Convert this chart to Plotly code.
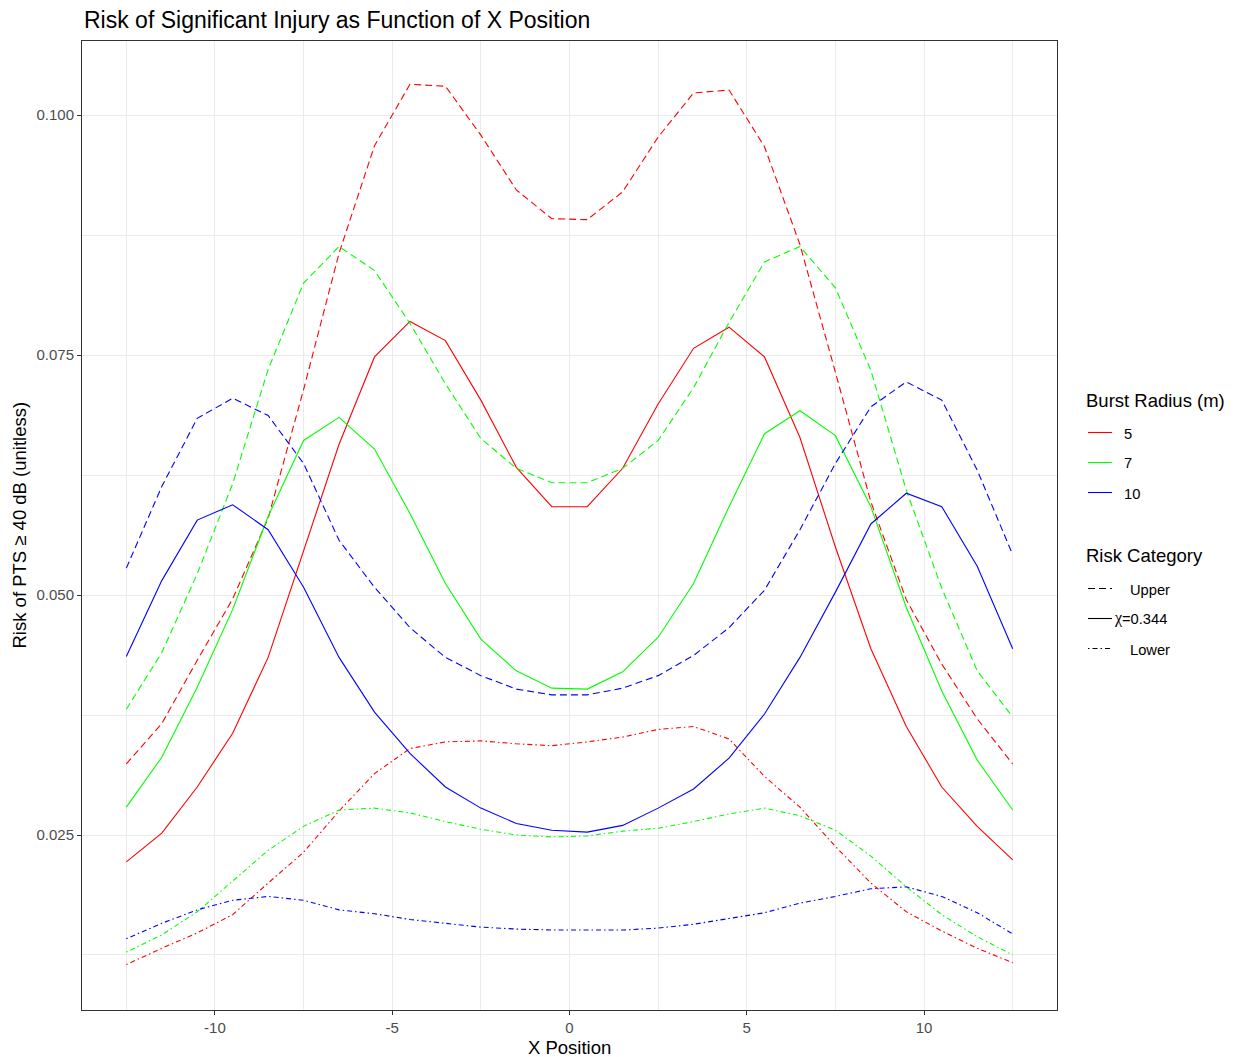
import plotly.graph_objects as go

x_pos = [-12.5, -11.5, -10.5, -9.5, -8.5, -7.5, -6.5, -5.5, -4.5, -3.5, -2.5, -1.5, -0.5,
         0.5, 1.5, 2.5, 3.5, 4.5, 5.5, 6.5, 7.5, 8.5, 9.5, 10.5, 11.5, 12.5]

r5_upper = [0.0324, 0.0366, 0.0432, 0.0496, 0.0580, 0.0714, 0.0856, 0.0968, 0.1032, 0.1030, 0.0979, 0.0922, 0.0892,
            0.0891, 0.0920, 0.0977, 0.1023, 0.1026, 0.0967, 0.0865, 0.0732, 0.0597, 0.0495, 0.0428, 0.0371, 0.0324]
r5_mid = [0.0222, 0.0252, 0.0300, 0.0356, 0.0435, 0.0546, 0.0657, 0.0748, 0.0785, 0.0765, 0.0703, 0.0633, 0.0592,
          0.0592, 0.0632, 0.0699, 0.0757, 0.0779, 0.0748, 0.0664, 0.0550, 0.0444, 0.0363, 0.0300, 0.0259, 0.0224]
r5_lower = [0.0115, 0.0132, 0.0148, 0.0167, 0.0200, 0.0232, 0.0275, 0.0314, 0.0340, 0.0347, 0.0348, 0.0345, 0.0343,
            0.0347, 0.0352, 0.0360, 0.0363, 0.0350, 0.0311, 0.0279, 0.0238, 0.0200, 0.0170, 0.0150, 0.0132, 0.0117]

r7_upper = [0.0381, 0.0440, 0.0522, 0.0616, 0.0735, 0.0825, 0.0863, 0.0838, 0.0783, 0.0720, 0.0663, 0.0632, 0.0617,
            0.0617, 0.0632, 0.0661, 0.0716, 0.0784, 0.0847, 0.0863, 0.0820, 0.0734, 0.0609, 0.0507, 0.0421, 0.0373]
r7_mid = [0.0279, 0.0331, 0.0404, 0.0485, 0.0582, 0.0661, 0.0685, 0.0652, 0.0585, 0.0512, 0.0454, 0.0421, 0.0403,
          0.0402, 0.0420, 0.0456, 0.0512, 0.0592, 0.0668, 0.0692, 0.0666, 0.0592, 0.0487, 0.0400, 0.0328, 0.0276]
r7_lower = [0.0128, 0.0146, 0.0170, 0.0202, 0.0234, 0.0259, 0.0276, 0.0278, 0.0273, 0.0264, 0.0256, 0.0250, 0.0248,
            0.0249, 0.0254, 0.0257, 0.0264, 0.0272, 0.0278, 0.0270, 0.0255, 0.0228, 0.0196, 0.0167, 0.0144, 0.0125]

r10_upper = [0.0528, 0.0613, 0.0684, 0.0705, 0.0687, 0.0637, 0.0557, 0.0508, 0.0466, 0.0435, 0.0416, 0.0402, 0.0396,
             0.0396, 0.0403, 0.0416, 0.0437, 0.0466, 0.0505, 0.0568, 0.0637, 0.0696, 0.0722, 0.0703, 0.0630, 0.0542]
r10_mid = [0.0436, 0.0515, 0.0578, 0.0594, 0.0568, 0.0508, 0.0435, 0.0378, 0.0335, 0.0300, 0.0278, 0.0262, 0.0255,
           0.0253, 0.0260, 0.0278, 0.0298, 0.0330, 0.0376, 0.0435, 0.0503, 0.0574, 0.0606, 0.0592, 0.0530, 0.0444]
r10_lower = [0.0142, 0.0158, 0.0172, 0.0182, 0.0186, 0.0182, 0.0172, 0.0168, 0.0162, 0.0158, 0.0154, 0.0152, 0.0151,
             0.0151, 0.0151, 0.0153, 0.0157, 0.0163, 0.0169, 0.0179, 0.0186, 0.0194, 0.0196, 0.0186, 0.0169, 0.0147]

radius_labels = ["5", "7", "10"]
radius_colors = ["#FF0000", "#00FF00", "#0000FF"]
category_labels = ["Upper", "=0.344", "Lower"]

series = [
    (r5_upper, 0, 0), (r5_mid, 0, 1), (r5_lower, 0, 2),
    (r7_upper, 1, 0), (r7_mid, 1, 1), (r7_lower, 1, 2),
    (r10_upper, 2, 0), (r10_mid, 2, 1), (r10_lower, 2, 2),
]
dashes = ["7px,4px", "solid", "1.5px,3px,5px,3px"]

FONT = "Liberation Sans, Arial, sans-serif"
W, H = 1241, 1057
L, R, T, B = 82, 1057, 41, 1010

fig = go.Figure()
for vals, ci, di in series:
    fig.add_trace(go.Scatter(
        x=x_pos, y=vals, mode="lines",
        line=dict(color=radius_colors[ci], width=1.1, dash=dashes[di]),
        showlegend=False, hoverinfo="skip",
    ))


def px_x(px):
    return (px - L) / (R - L)


def px_y(py):
    return (B - py) / (B - T)


annotations = []
shapes = []

# Title and axis titles
annotations.append(dict(text="Risk of Significant Injury as Function of X Position",
                        x=px_x(82), y=px_y(20), xref="paper", yref="paper",
                        xanchor="left", yanchor="middle", showarrow=False,
                        font=dict(family=FONT, size=23, color="#000000")))
annotations.append(dict(text="X Position", x=px_x(569.5), y=px_y(1047), xref="paper", yref="paper",
                        xanchor="center", yanchor="middle", showarrow=False,
                        font=dict(family=FONT, size=18.5, color="#000000")))
annotations.append(dict(text="Risk of PTS ≥ 40 dB (unitless)", x=px_x(19), y=px_y(525.5),
                        xref="paper", yref="paper", textangle=-90,
                        xanchor="center", yanchor="middle", showarrow=False,
                        font=dict(family=FONT, size=18.5, color="#000000")))

# Legend 1: Burst Radius
annotations.append(dict(text="Burst Radius (m)", x=px_x(1084), y=px_y(401), xref="paper", yref="paper",
                        xanchor="left", yanchor="middle", showarrow=False,
                        font=dict(family=FONT, size=18.5, color="#000000")))
for i, (lab, col) in enumerate(zip(radius_labels, radius_colors)):
    yy = 432.5 + 30 * i
    shapes.append(dict(type="line", xref="paper", yref="paper",
                       x0=px_x(1088), x1=px_x(1112), y0=px_y(yy), y1=px_y(yy),
                       line=dict(color=col, width=1.1)))
    annotations.append(dict(text=lab, x=px_x(1122), y=px_y(yy + 1), xref="paper", yref="paper",
                            xanchor="left", yanchor="middle", showarrow=False,
                            font=dict(family=FONT, size=14.7, color="#000000")))

# Legend 2: Risk Category
annotations.append(dict(text="Risk Category", x=px_x(1084), y=px_y(555), xref="paper", yref="paper",
                        xanchor="left", yanchor="middle", showarrow=False,
                        font=dict(family=FONT, size=18.5, color="#000000")))
for i in range(3):
    yy = 588.5 + 30 * i
    shapes.append(dict(type="line", xref="paper", yref="paper",
                       x0=px_x(1088), x1=px_x(1112), y0=px_y(yy), y1=px_y(yy),
                       line=dict(color="#000000", width=1.1, dash=dashes[i])))
    if i == 1:
        annotations.append(dict(text="χ", x=px_x(1112), y=px_y(yy - 0.5), xref="paper", yref="paper",
                                xanchor="left", yanchor="middle", showarrow=False,
                                font=dict(family="Liberation Serif, serif", size=16, color="#000000")))
        annotations.append(dict(text=category_labels[i], x=px_x(1120), y=px_y(yy + 1), xref="paper", yref="paper",
                                xanchor="left", yanchor="middle", showarrow=False,
                                font=dict(family=FONT, size=14.7, color="#000000")))
    else:
        annotations.append(dict(text=category_labels[i], x=px_x(1128), y=px_y(yy + 1), xref="paper", yref="paper",
                                xanchor="left", yanchor="middle", showarrow=False,
                                font=dict(family=FONT, size=14.7, color="#000000")))

axis_common = dict(
    showgrid=True, gridcolor="#ebebeb", gridwidth=1,
    zeroline=False, showline=True, linecolor="#333333", linewidth=1, mirror=True,
    ticks="outside", ticklen=4, tickwidth=1, tickcolor="#333333",
    tickfont=dict(family=FONT, size=15, color="#4d4d4d"),
)

fig.update_layout(
    width=W, height=H,
    margin=dict(l=L, r=W - R, t=T, b=H - B, pad=0),
    paper_bgcolor="#ffffff", plot_bgcolor="#ffffff",
    showlegend=False,
    xaxis=dict(range=[-13.75, 13.75], tickvals=[-10, -5, 0, 5, 10],
               ticktext=["-10", "-5", "0", "5", "10"],
               minor=dict(tick0=0, dtick=2.5, showgrid=True, gridcolor="#ebebeb", gridwidth=0.6, ticks=""),
               **axis_common),
    yaxis=dict(range=[0.00677, 0.10771], tickvals=[0.025, 0.05, 0.075, 0.1],
               ticktext=["0.025", "0.050", "0.075", "0.100"],
               minor=dict(tick0=0, dtick=0.0125, showgrid=True, gridcolor="#ebebeb", gridwidth=0.6, ticks=""),
               **axis_common),
    annotations=annotations,
    shapes=shapes,
)

fig.write_html("out.html", config={"displayModeBar": False},
               post_script="document.body.style.margin='0';document.body.style.overflow='hidden';")
